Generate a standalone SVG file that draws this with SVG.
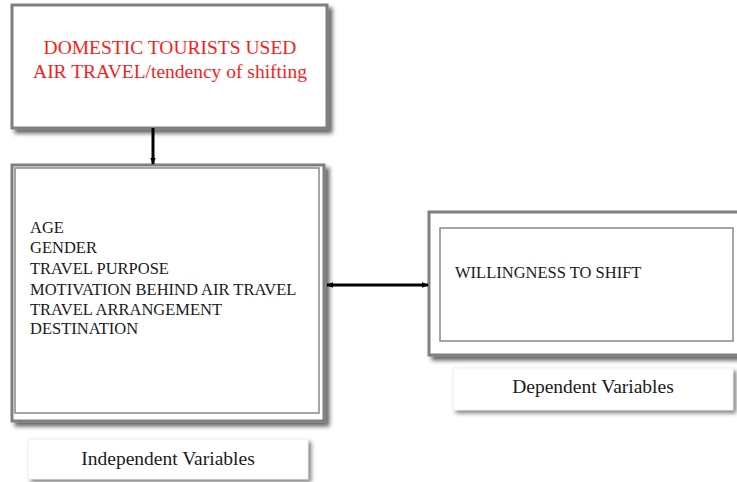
<svg xmlns="http://www.w3.org/2000/svg" width="737" height="482" viewBox="0 0 737 482">
<defs>
<filter id="sh" x="-10%" y="-10%" width="130%" height="130%">
<feDropShadow dx="4" dy="4" stdDeviation="2" flood-color="#000" flood-opacity="0.6"/>
</filter>
<filter id="sh2" x="-10%" y="-20%" width="130%" height="160%">
<feDropShadow dx="3" dy="3" stdDeviation="2" flood-color="#000" flood-opacity="0.5"/>
</filter>
<marker id="ah" viewBox="0 0 10 10" refX="9" refY="5" markerWidth="7" markerHeight="7" orient="auto-start-reverse" markerUnits="userSpaceOnUse">
<path d="M0,1 L10,5 L0,9 z" fill="#000"/>
</marker>
<style>
.frame{fill:#fff;stroke:#7f7f7f;stroke-width:3}
.inner{fill:none;stroke:#888;stroke-width:1.5}
.lab{fill:#fff;stroke:#e0e0e0;stroke-width:0.5}
.t{font-family:"Liberation Serif","Times New Roman",serif;fill:#1a1a1a}
.red{font-family:"Liberation Serif","Times New Roman",serif;fill:#ff1a1a;font-size:19.5px}
.conn{stroke:#000;stroke-width:3;fill:none}
</style>
</defs>
<g id="top">
<rect class="frame" x="12" y="5" width="315" height="123" filter="url(#sh)"/>
<text class="red" x="170" y="54" text-anchor="middle">DOMESTIC TOURISTS USED</text>
<text class="red" x="170" y="78" text-anchor="middle">AIR TRAVEL/tendency of shifting</text>
</g>
<g id="independent">
<rect class="frame" x="12" y="165" width="312" height="256" filter="url(#sh)"/>
<rect class="inner" x="15" y="168" width="304" height="245"/>
<text class="t" font-size="16.5" x="30">
<tspan x="30" y="233">AGE</tspan>
<tspan x="30" y="253">GENDER</tspan>
<tspan x="30" y="274">TRAVEL PURPOSE</tspan>
<tspan x="30" y="295">MOTIVATION BEHIND AIR TRAVEL</tspan>
<tspan x="30" y="315">TRAVEL ARRANGEMENT</tspan>
<tspan x="30" y="334">DESTINATION</tspan>
</text>
</g>
<g id="dependent">
<rect class="frame" x="429" y="212" width="320" height="143" filter="url(#sh)"/>
<rect class="inner" x="440" y="228" width="293" height="113"/>
<text class="t" font-size="16.5" x="455" y="278">WILLINGNESS TO SHIFT</text>
</g>
<g id="label-independent">
<rect class="lab" x="28" y="439" width="280" height="40" filter="url(#sh2)"/>
<text class="t" font-size="19.5" x="168" y="465" text-anchor="middle">Independent Variables</text>
</g>
<g id="label-dependent">
<rect class="lab" x="453" y="368" width="280" height="42" filter="url(#sh2)"/>
<text class="t" font-size="19.5" x="593" y="393" text-anchor="middle">Dependent Variables</text>
</g>
<g id="connectors">
<line class="conn" x1="153" y1="128" x2="153" y2="164" marker-end="url(#ah)"/>
<line class="conn" stroke-width="2.5" x1="327" y1="285" x2="428" y2="285" marker-start="url(#ah)" marker-end="url(#ah)"/>
</g>
</svg>
